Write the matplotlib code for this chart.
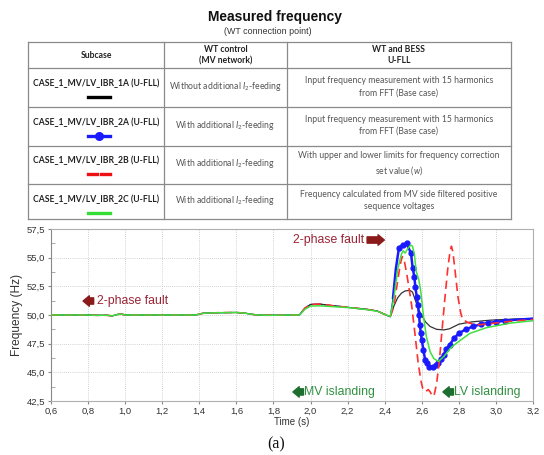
import matplotlib
matplotlib.use("Agg")
import matplotlib.pyplot as plt
from matplotlib.ticker import MultipleLocator, FuncFormatter
from matplotlib.lines import Line2D

# Pre-fault part, common to all subcases (only green is visible there)
t_pre = [0.6, 0.8, 0.85, 0.9, 0.93, 0.96, 0.98, 1.0, 1.05, 1.38, 1.42, 1.5, 1.6, 1.65,
         1.7, 1.75, 1.8, 1.9, 1.94]
f_pre = [50.0, 50.0, 49.97, 49.98, 49.92, 50.05, 50.08, 50.0, 50.0, 50.0, 50.15, 50.2,
         50.22, 50.15, 50.02, 49.98, 49.98, 50.0, 50.0]

# MV islanding part (1A, 2A, 2B almost identical)
t_mv = [1.97, 2.0, 2.05, 2.1, 2.2, 2.3, 2.36, 2.4, 2.43]
f_mv = [50.6, 50.92, 50.95, 50.85, 50.67, 50.5, 50.35, 50.05, 49.85]
f_mv_2c = [50.5, 50.78, 50.8, 50.75, 50.65, 50.48, 50.33, 50.05, 49.88]

# Fault / LV islanding part, per subcase
t_1a = [2.45, 2.47, 2.49, 2.51, 2.535, 2.55, 2.565, 2.58, 2.595, 2.62, 2.645, 2.68,
        2.72, 2.75, 2.8, 2.87, 2.97, 3.1, 3.2]
f_1a = [50.8, 51.5, 51.9, 52.1, 52.15, 52.0, 51.3, 50.6, 50.1, 49.4, 49.0, 48.75,
        48.7, 48.8, 49.2, 49.4, 49.55, 49.65, 49.7]

t_2a = [2.445, 2.46, 2.477, 2.497, 2.518, 2.542, 2.551, 2.56, 2.565, 2.573, 2.579,
        2.585, 2.59, 2.595, 2.6, 2.609, 2.618, 2.627, 2.641, 2.662, 2.677, 2.69,
        2.703, 2.718, 2.73, 2.75, 2.776, 2.8, 2.837, 2.877, 2.92, 2.956, 3.0, 3.05,
        3.1, 3.15, 3.2]
f_2a = [51.5, 54.0, 55.87, 56.1, 56.25, 55.38, 54.07, 53.34, 52.47, 51.6, 50.9,
        50.0, 49.1, 48.4, 47.8, 46.95, 46.1, 45.8, 45.5, 45.45, 45.6, 45.8,
        46.15, 46.5, 47.0, 47.4, 48.0, 48.4, 48.75, 49.0, 49.2, 49.3, 49.4, 49.5,
        49.58, 49.63, 49.68]

t_2b = [2.45, 2.47, 2.485, 2.495, 2.505, 2.52, 2.545, 2.563, 2.58, 2.595, 2.605,
        2.62, 2.635, 2.645, 2.655, 2.665, 2.68, 2.695, 2.71, 2.725, 2.74, 2.752,
        2.76, 2.768, 2.78, 2.795, 2.81, 2.82, 2.855, 2.91, 2.97, 3.08, 3.2]
f_2b = [50.8, 53.0, 54.5, 55.1, 54.8, 53.5, 50.9, 48.4, 45.9, 44.3, 43.6,
        43.3, 43.5, 43.3, 43.0, 42.9, 44.0, 46.0, 48.8, 51.5, 54.0, 55.5,
        56.0, 55.5, 53.8, 51.6, 50.2, 49.6, 49.3, 49.15, 49.25, 49.45, 49.6]

t_2c = [2.45, 2.47, 2.49, 2.5, 2.51, 2.525, 2.54, 2.55, 2.56, 2.57, 2.585, 2.595,
        2.61, 2.625, 2.645, 2.665, 2.69, 2.72, 2.76, 2.8, 2.86, 2.95, 3.08, 3.2]
f_2c = [51.5, 54.0, 55.3, 55.6, 55.4, 55.8, 56.1, 56.0, 55.3, 53.8, 53.0, 52.0,
        49.8, 48.1, 46.8, 46.2, 45.95, 46.4, 47.2, 47.7, 48.4, 48.9, 49.3, 49.5]

subcases = ["CASE_1_MV/LV_IBR_1A (U-FLL)", "CASE_1_MV/LV_IBR_2A (U-FLL)",
            "CASE_1_MV/LV_IBR_2B (U-FLL)", "CASE_1_MV/LV_IBR_2C (U-FLL)"]
wt_control = ["Without additional $I_2$-feeding", "With additional $I_2$-feeding",
              "With additional $I_2$-feeding", "With additional $I_2$-feeding"]
bess_text = ["Input frequency measurement with 15 harmonics\nfrom FFT (Base case)",
             "Input frequency measurement with 15 harmonics\nfrom FFT (Base case)",
             "With upper and lower limits for frequency correction\nset value ($w$)",
             "Frequency calculated from MV side filtered positive\nsequence voltages"]

c_black, c_blue, c_red, c_green = "#333333", "#1a1aff", "#ff3030", "#3fe03f"
c_fault, c_isl = "#9b2335", "#2f8f3f"

plt.rcParams["font.family"] = ["Liberation Sans", "DejaVu Sans"]
plt.rcParams["mathtext.fontset"] = "custom"
plt.rcParams["mathtext.it"] = "Lato:italic"
plt.rcParams["mathtext.rm"] = "Lato"

fig = plt.figure(figsize=(5.44, 4.55), dpi=100)
W, H = 544, 455

# ---- chart ----
ax = fig.add_axes([51 / W, 1 - 401 / H, 482 / W, 172 / H])
ax.plot(t_pre + t_mv + t_1a, f_pre + f_mv + f_1a, color=c_black, lw=0.9, zorder=3)
# 2A: thin where it coincides with the others, thick with markers after the fault
ax.plot(t_pre + t_mv + t_2a[:1], f_pre + f_mv + f_2a[:1], color=c_blue, lw=0.8, zorder=2)
ax.plot(t_2a, f_2a, color=c_blue, lw=1.8, marker="o", ms=3.5,
        markevery=list(range(2, 34)), zorder=4)
ax.plot(t_pre + t_mv + t_2b, f_pre + f_mv + f_2b, color=c_red, lw=1.2,
        dashes=(5, 3), zorder=5)
ax.plot(t_pre + t_mv + t_2c, f_pre + f_mv_2c + f_2c, color=c_green, lw=1.1, zorder=6)

ax.set_xlim(0.6, 3.2)
ax.set_ylim(42.5, 57.5)
ax.xaxis.set_major_locator(MultipleLocator(0.2))
ax.yaxis.set_major_locator(MultipleLocator(2.5))
ax.yaxis.set_minor_locator(MultipleLocator(1.25))
fmt = FuncFormatter(lambda v, p: f"{v:.1f}".replace(".", ","))
ax.xaxis.set_major_formatter(fmt)
ax.yaxis.set_major_formatter(fmt)
ax.grid(True, which="major", color="#c4c4c4", lw=0.6, ls=(0, (1, 1.5)))
ax.tick_params(which="major", length=2, color="#888888", labelsize=6.8,
               labelcolor="#333333", pad=2)
ax.tick_params(axis="y", which="minor", length=3, direction="in", color="#999999")
for s in ax.spines.values():
    s.set_color("#b0b0b0")
    s.set_linewidth(0.8)
ax.spines["left"].set_color("#888888")
ax.set_ylabel("Frequency (Hz)", fontsize=8.6, color="#333333", labelpad=3)
ax.set_xlabel("Time (s)", fontsize=7, color="#333333", labelpad=1)

arrow = "simple,head_length=0.45,head_width=0.75,tail_width=0.45"
def block_arrow(x_head, x_tail, y, color):
    ax.annotate("", xy=(x_head, y), xytext=(x_tail, y),
                arrowprops=dict(arrowstyle=arrow, color=color, mutation_scale=10,
                                shrinkA=0, shrinkB=0), zorder=7)

block_arrow(0.773, 0.83, 51.22, "#8b1a1a")
ax.text(0.848, 51.22, "2-phase fault", color=c_fault, fontsize=8.8, va="center")
block_arrow(2.398, 2.305, 56.54, "#8b1a1a")
ax.text(2.288, 56.54, "2-phase fault", color=c_fault, fontsize=8.8, va="center", ha="right")
block_arrow(1.905, 1.962, 43.29, "#1e6e30")
ax.text(1.965, 43.29, "MV islanding", color=c_isl, fontsize=8.8, va="center")
block_arrow(2.714, 2.771, 43.29, "#1e6e30")
ax.text(2.774, 43.29, "LV islanding", color=c_isl, fontsize=8.8, va="center")

# ---- title, table and caption (figure pixel coordinates) ----
ov = fig.add_axes([0, 0, 1, 1], facecolor="none")
ov.set_xlim(0, W)
ov.set_ylim(H, 0)
ov.axis("off")

ov.text(275, 17, "Measured frequency", fontsize=9.9, fontweight="bold",
        ha="center", va="center", color="#111111")
ov.text(268, 31, "(WT connection point)", fontsize=6.4, ha="center", va="center",
        color="#333333")

row_y = [41.7, 68.3, 107.3, 145.7, 184.0, 219.0]
col_x = [28.3, 164.0, 286.7, 511.0]
for y in row_y:
    ov.add_line(Line2D([col_x[0], col_x[-1]], [y, y], color="#8a8a8a", lw=0.9))
for x in col_x:
    ov.add_line(Line2D([x, x], [row_y[0], row_y[-1]], color="#8a8a8a", lw=0.9))

tfont = dict(family=["Lato", "DejaVu Sans"], fontsize=6.2, ha="center", va="center")
cx = [(col_x[i] + col_x[i + 1]) / 2 for i in range(3)]
ov.text(cx[0], 56, "Subcase", fontweight="bold", color="#222222", **tfont)
ov.text(cx[1], 55, "WT control\n(MV network)", fontweight="bold", color="#222222",
        linespacing=1.3, **tfont)
ov.text(cx[2], 55, "WT and BESS\nU-FLL", fontweight="bold", color="#222222",
        linespacing=1.3, **tfont)

for i in range(4):
    top, bot = row_y[i + 1], row_y[i + 2]
    ov.text(cx[0], top + 15, subcases[i], fontweight="bold", color="#222222", **tfont)
    ov.text(cx[1], (top + bot) / 2 - 1, wt_control[i], color="#555555", **tfont)
    ov.text(cx[2], (top + bot) / 2 - 1, bess_text[i], color="#555555",
            linespacing=1.45, **tfont)

ly = [row_y[i + 1] + 28.5 for i in range(4)]
ov.add_line(Line2D([88, 110], [ly[0], ly[0]], color="#000000", lw=2.4))
ov.add_line(Line2D([88, 110], [ly[1], ly[1]], color=c_blue, lw=2.4))
ov.add_line(Line2D([99], [ly[1]], color=c_blue, marker="o", ms=5.5))
ov.add_line(Line2D([88, 97], [ly[2], ly[2]], color="#ee1111", lw=2.4))
ov.add_line(Line2D([101, 110], [ly[2], ly[2]], color="#ee1111", lw=2.4))
ov.add_line(Line2D([88, 110], [ly[3], ly[3]], color="#33dd33", lw=2.4))

ov.text(276, 444, "(a)", family=["Liberation Serif", "DejaVu Serif"], fontsize=11.5,
        ha="center", va="center", color="#111111")

fig.savefig("out.png", dpi=100)
